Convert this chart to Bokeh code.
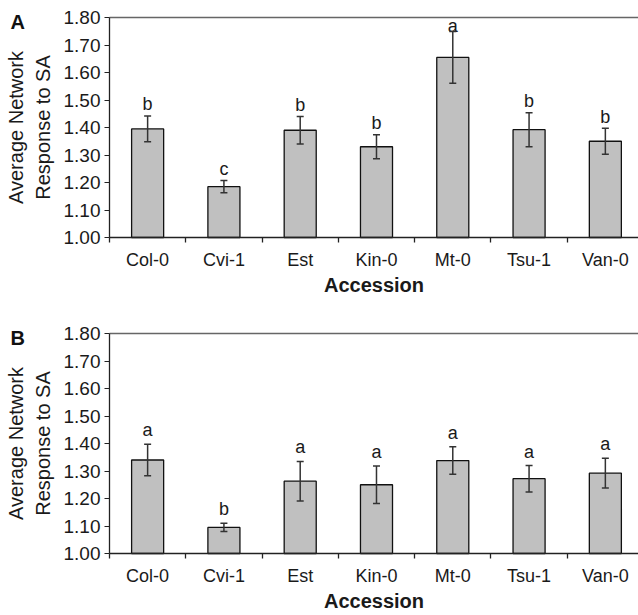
import numpy as np
from bokeh.plotting import figure
from bokeh.layouts import column
from bokeh.models import (ColumnDataSource, Whisker, TeeHead, FixedTicker,
                          Label, Range1d, NumeralTickFormatter, LinearAxis)
from bokeh.core.properties import value
from bokeh.embed import file_html
from bokeh.resources import INLINE

# ---------------- data ----------------
accessions = ["Col-0", "Cvi-1", "Est", "Kin-0", "Mt-0", "Tsu-1", "Van-0"]

mean_a = [1.395, 1.185, 1.390, 1.330, 1.655, 1.392, 1.350]
err_a = [0.047, 0.022, 0.050, 0.044, 0.094, 0.062, 0.047]
letters_a = ["b", "c", "b", "b", "a", "b", "b"]

mean_b = [1.340, 1.095, 1.263, 1.250, 1.338, 1.272, 1.292]
err_b = [0.057, 0.015, 0.072, 0.068, 0.050, 0.048, 0.054]
letters_b = ["a", "b", "a", "a", "a", "a", "a"]

y_ticks = [1.00, 1.10, 1.20, 1.30, 1.40, 1.50, 1.60, 1.70, 1.80]
y_title = "Average Network\nResponse to SA"
x_title = "Accession"

FONT = "Liberation Sans"
Y0, Y1 = 1.0, 1.8
FRAME_H = 220
LEFT = 109          # pixel position of the value axis
CAT_W = 76.3        # pixels per category


def make_panel(mean, err, letters, tag, top_px, bottom_px, gap_px):
    n = len(accessions)
    x = np.arange(n)
    mean = np.array(mean)
    err = np.array(err)
    upper = mean + err
    lower = mean - err
    ppu = FRAME_H / (Y1 - Y0)
    lab_y = np.minimum(upper + gap_px / ppu, Y1 - 8 / ppu)
    src = ColumnDataSource(dict(x=x, top=mean, upper=upper, lower=lower,
                                lab=letters, lab_y=lab_y))

    x_start = -0.5 - LEFT / CAT_W
    x_end = n - 0.5 - 5 / CAT_W
    y_start = Y0 - bottom_px / ppu
    y_end = Y1 + top_px / ppu
    height = FRAME_H + top_px + bottom_px

    p = figure(width=638, height=height, output_backend="svg", toolbar_location=None,
               x_range=Range1d(x_start, x_end), y_range=Range1d(y_start, y_end),
               x_axis_location=None, y_axis_location=None,
               min_border_left=0, min_border_right=0,
               min_border_top=0, min_border_bottom=0)
    p.outline_line_color = None
    p.grid.visible = False
    p.background_fill_color = "white"
    p.border_fill_color = "white"

    p.vbar(x="x", top="top", bottom=Y0, width=0.42, source=src,
           fill_color="#c0c0c0", line_color="#111111", line_width=1.3)
    w = Whisker(base="x", upper="upper", lower="lower", source=src,
                line_color="#333333", line_width=1.5, level="overlay",
                upper_head=TeeHead(size=7, line_color="#333333", line_width=1.5),
                lower_head=TeeHead(size=7, line_color="#333333", line_width=1.5))
    p.add_layout(w)
    p.text(x="x", y="lab_y", text="lab", source=src, text_align="center",
           text_baseline="alphabetic", text_font=value(FONT),
           text_font_size="18px", text_color="#1a1a1a")

    # top border line at 1.80
    top_axis = LinearAxis(fixed_location=Y1, bounds=(-0.5, n - 0.5),
                          ticker=FixedTicker(ticks=[]), axis_line_color="#666666",
                          axis_line_width=1.5, major_tick_line_color=None,
                          minor_tick_line_color=None, major_label_text_font_size="0px")
    p.add_layout(top_axis, "above")

    # value axis
    ya = LinearAxis(fixed_location=-0.5, bounds=(Y0, Y1))
    p.add_layout(ya, "left")
    ya.ticker = FixedTicker(ticks=y_ticks)
    ya.formatter = NumeralTickFormatter(format="0.00")
    ya.major_tick_out = 5
    ya.major_tick_in = 0
    ya.minor_tick_line_color = None
    ya.axis_line_color = "#222222"
    ya.axis_line_width = 1.3
    ya.major_tick_line_color = "#222222"
    ya.major_label_text_font = FONT
    ya.major_label_text_font_size = "19px"
    ya.major_label_text_color = "#1a1a1a"
    ya.major_label_standoff = 4
    ya.axis_label = y_title
    ya.axis_label_text_font = FONT
    ya.axis_label_text_font_size = "20px"
    ya.axis_label_text_font_style = "normal"
    ya.axis_label_text_color = "#1a1a1a"
    ya.axis_label_standoff = 7

    # category axis
    xa = LinearAxis(fixed_location=Y0, bounds=(-0.5, n - 0.5))
    p.add_layout(xa, "below")
    xa.ticker = FixedTicker(ticks=list(x), minor_ticks=list(np.arange(n + 1) - 0.5))
    xa.major_label_overrides = {int(i): a for i, a in enumerate(accessions)}
    xa.major_tick_out = 0
    xa.major_tick_in = 0
    xa.major_tick_line_color = None
    xa.minor_tick_out = 5
    xa.minor_tick_in = 0
    xa.minor_tick_line_color = "#222222"
    xa.minor_tick_line_width = 1.3
    xa.axis_line_color = "#222222"
    xa.axis_line_width = 1.3
    xa.major_label_text_font = FONT
    xa.major_label_text_font_size = "18px"
    xa.major_label_text_color = "#1a1a1a"
    xa.major_label_standoff = 7
    xa.axis_label = x_title
    xa.axis_label_text_font = FONT
    xa.axis_label_text_font_size = "20px"
    xa.axis_label_text_font_style = "bold"
    xa.axis_label_text_color = "#1a1a1a"
    xa.axis_label_standoff = 1

    p.add_layout(Label(x=x_start + 10 / CAT_W, y=Y1 - 4 / ppu, text=tag,
                       text_font=FONT, text_font_size="20px", text_font_style="bold",
                       text_color="#111111", text_baseline="alphabetic"))
    return p


pa = make_panel(mean_a, err_a, letters_a, "A", 17, 63, 11.5)
pb = make_panel(mean_b, err_b, letters_b, "B", 33, 62, 14.0)
layout = column(pa, pb, spacing=0)

open("out.html", "w").write(file_html(layout, INLINE))
